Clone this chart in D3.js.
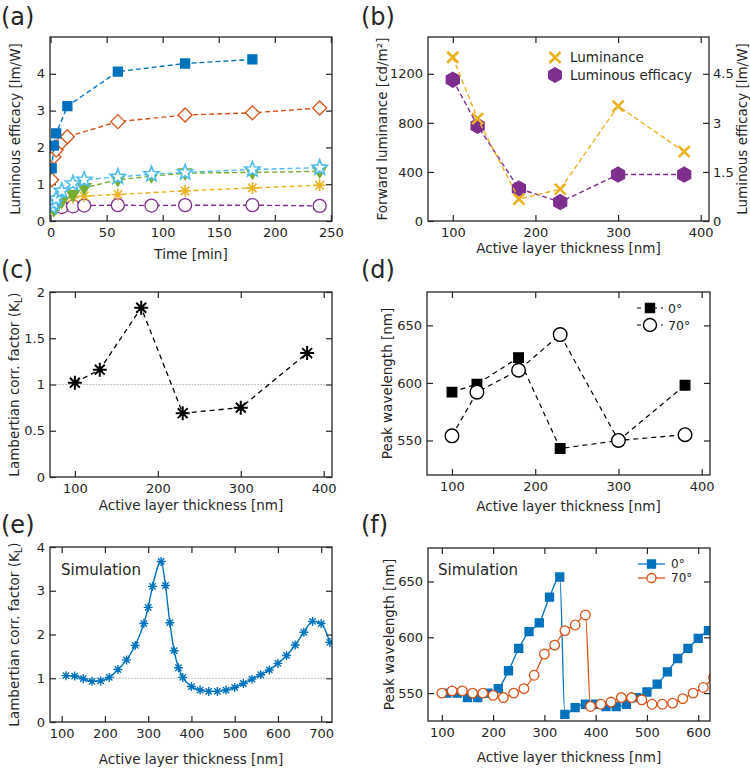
<!DOCTYPE html>
<html><head><meta charset="utf-8">
<script src="https://cdn.jsdelivr.net/npm/d3@7"></script>
<style>
body{margin:0;background:#fff}
text{font-family:"DejaVu Sans",sans-serif;fill:#262626}
</style>
</head><body>
<svg id="c" width="750" height="771"></svg>
<script>
// ---------- DATA ----------
// (a) luminous efficacy vs time
const aBlueT = [1,3,5,15,60,120,180];
const aBlue = [1.43,2.05,2.38,3.12,4.06,4.28,4.39];
const aOrangeT = [1,3,5,10,15,60,120,180,240];
const aOrange = [1.12,1.74,1.93,2.14,2.29,2.70,2.88,2.94,3.07];
const aCyanT = [1,3,5,10,20,30,60,90,120,180,240];
const aCyan = [0.38,0.48,0.6,0.82,1.02,1.12,1.2,1.27,1.32,1.4,1.45];
const aGreenT = [1,3,5,10,20,30,60,90,120,180,240];
const aGreen = [0.42,0.3,0.38,0.52,0.72,0.9,1.12,1.22,1.3,1.32,1.35];
const aYellowT = [1,3,5,10,20,30,60,120,180,240];
const aYellow = [0.45,0.5,0.55,0.62,0.64,0.68,0.72,0.82,0.9,0.97];
const aPurpleT = [1,3,10,20,30,60,90,120,180,240];
const aPurple = [0.45,0.4,0.38,0.4,0.42,0.43,0.42,0.43,0.43,0.41];
const aXTicks = [0,50,100,150,200,250];
const aYTicks = [0,1,2,3,4];
// (b)
const thickness = [100,130,180,230,300,380];
const bLuminance = [1335,835,178,260,937,565];
const bEfficacy = [4.32,2.91,0.99,0.58,1.42,1.42];
const bYTicks = [0,400,800,1200];
const bY2Ticks = [0,1.5,3,4.5];
const thickTicks = [100,200,300,400];
// (c)
const cKL = [1.02,1.16,1.83,0.69,0.75,1.34];
const cYTicks = [0,0.5,1,1.5,2];
// (d)
const d0deg = [592,599,622,543,550,598];
const d70deg = [554,592,611,642,550,555];
const wlTicks = [550,600,650];
// (e)
const eThick = [110,130,150,170,190,210,230,250,270,290,300,310,330,340,350,360,370,380,400,420,440,460,480,500,520,540,560,580,600,620,640,660,680,700,720];
const eKL = [1.06,1.05,0.99,0.93,0.94,1.02,1.2,1.42,1.75,2.25,2.62,3.1,3.67,3.12,2.27,1.63,1.24,1.02,0.81,0.73,0.70,0.70,0.73,0.79,0.88,0.98,1.08,1.19,1.34,1.52,1.76,2.05,2.30,2.25,1.82];
const eXTicks = [100,200,300,400,500,600,700];
const eYTicks = [0,1,2,3,4];
// (f)
const f0T = [110,130,150,170,190,210,230,250,270,290,310,330,340,360,380,400,420,440,460,480,500,520,540,560,580,600,620];
const f0 = [550,550,546,546,550,554,570,590,605,613,636,654,531,537,540,540,538,538,540,546,551,558,569,581,590,599,606];
const f70T = [100,120,140,160,180,200,220,240,260,280,300,320,340,360,380,390,410,430,450,470,490,510,530,550,570,590,610,630];
const f70 = [550,552,552,550,550,548,546,550,554,566,585,593,606,611,620,538,540,542,546,546,544,540,540,541,545,550,555,564];
const fXTicks = [100,200,300,400,500,600];

// ---------- COLORS ----------
const C = {blue:"#0072BD",orange:"#D95319",yellow:"#EDB120",purple:"#7E2F8E",green:"#77AC30",cyan:"#4DBEEE",axis:"#262626"};

const svg = d3.select("#c");

function mk(type, r){
  switch(type){
    case "square": return `M${-r},${-r}H${r}V${r}H${-r}Z`;
    case "diamond": return `M0,${-r}L${r},0L0,${r}L${-r},0Z`;
    case "star": { const p=[]; for(let i=0;i<10;i++){const a=-Math.PI/2+i*Math.PI/5; const rr=i%2?r*0.42:r; p.push([rr*Math.cos(a),rr*Math.sin(a)]);} return "M"+p.join("L")+"Z"; }
    case "triDown": return `M${-r},${-r*0.65}L${r},${-r*0.65}L0,${r}Z`;
    case "asterisk": { const d=r*0.707; return `M${-r},0H${r}M0,${-r}V${r}M${-d},${-d}L${d},${d}M${-d},${d}L${d},${-d}`; }
    case "x": return `M${-r},${-r}L${r},${r}M${-r},${r}L${r},${-r}`;
    case "hex": { const p=[]; for(let i=0;i<6;i++){const a=-Math.PI/2+i*Math.PI/3; p.push([r*Math.cos(a),r*Math.sin(a)]);} return "M"+p.join("L")+"Z"; }
    case "circle": return `M${r},0A${r},${r} 0 1,1 ${-r},0A${r},${r} 0 1,1 ${r},0Z`;
  }
}

function series(g, x, y, xs, ys, o){
  const pts = xs.map((d,i)=>[d,ys[i]]);
  const line = d3.line().x(d=>x(d[0])).y(d=>y(d[1])).curve(o.curve||d3.curveLinear);
  g.append("path").attr("d",line(pts)).attr("fill","none").attr("stroke",o.color)
    .attr("stroke-width",o.lw||1.4).attr("stroke-dasharray",o.dash||null);
  g.selectAll(null).data(pts).join("path")
    .attr("transform",d=>`translate(${x(d[0])},${y(d[1])})`)
    .attr("d",mk(o.marker,o.r)).attr("fill",o.fill)
    .attr("stroke",o.mstroke||o.color).attr("stroke-width",o.mlw||1.3);
}

let clipId = 0;
function panel(cfg){
  const g = svg.append("g");
  const x = d3.scaleLinear().domain(cfg.xd).range([cfg.x0,cfg.x1]);
  const y = d3.scaleLinear().domain(cfg.yd).range([cfg.y1,cfg.y0]);
  const fmt = d3.format("~g");
  const style = sel => { sel.select(".domain").remove(); sel.selectAll(".tick line").attr("stroke",C.axis).attr("stroke-width",1.2); sel.selectAll("text").attr("font-size",13).attr("fill",C.axis).attr("font-family","DejaVu Sans"); };
  g.append("g").attr("transform",`translate(0,${cfg.y1})`)
    .call(d3.axisBottom(x).tickValues(cfg.xt).tickFormat(fmt).tickSizeInner(-6).tickSizeOuter(0).tickPadding(7)).call(style);
  g.append("g").attr("transform",`translate(0,${cfg.y0})`)
    .call(d3.axisTop(x).tickValues(cfg.xt).tickFormat("").tickSizeInner(-6).tickSizeOuter(0)).call(style);
  g.append("g").attr("transform",`translate(${cfg.x0},0)`)
    .call(d3.axisLeft(y).tickValues(cfg.yt).tickFormat(fmt).tickSizeInner(-6).tickSizeOuter(0).tickPadding(5)).call(style);
  let y2 = null;
  if(cfg.y2d){
    y2 = d3.scaleLinear().domain(cfg.y2d).range([cfg.y1,cfg.y0]);
    g.append("g").attr("transform",`translate(${cfg.x1},0)`)
      .call(d3.axisRight(y2).tickValues(cfg.y2t).tickFormat(fmt).tickSizeInner(-6).tickSizeOuter(0).tickPadding(4)).call(style);
  } else {
    g.append("g").attr("transform",`translate(${cfg.x1},0)`)
      .call(d3.axisRight(y).tickValues(cfg.yt).tickFormat("").tickSizeInner(-6).tickSizeOuter(0)).call(style);
  }
  const id = "clip"+(clipId++);
  g.append("clipPath").attr("id",id).append("rect")
    .attr("x",cfg.x0).attr("y",cfg.y0).attr("width",cfg.x1-cfg.x0).attr("height",cfg.y1-cfg.y0);
  const plot = g.append("g").attr("clip-path",`url(#${id})`);
  g.append("rect").attr("x",cfg.x0).attr("y",cfg.y0).attr("width",cfg.x1-cfg.x0).attr("height",cfg.y1-cfg.y0)
    .attr("fill","none").attr("stroke",C.axis).attr("stroke-width",1.3);
  g.append("text").attr("x",(cfg.x0+cfg.x1)/2).attr("y",cfg.xty).attr("text-anchor","middle").attr("font-size",13.5).text(cfg.xtitle);
  const yt = g.append("text").attr("transform",`translate(${cfg.ytx},${(cfg.y0+cfg.y1)/2}) rotate(-90)`)
    .attr("text-anchor","middle").attr("dy","0.35em").attr("font-size",13.5);
  cfg.ytitle(yt);
  g.append("text").attr("x",cfg.lx).attr("y",cfg.ly).attr("font-size",24).text(cfg.label);
  return {g, plot, x, y, y2};
}

const xLabel = "Active layer thickness [nm]";

// ---------- (a) ----------
{
  const p = panel({x0:50,x1:332,y0:37,y1:221,xd:[-0.5,251],yd:[0,5],xt:aXTicks,yt:aYTicks,
    xtitle:"Time [min]",xty:259,ytx:15,ytitle:t=>t.text("Luminous efficacy [lm/W]"),label:"(a)",lx:1,ly:25});
  const dash="5,3";
  series(p.plot,p.x,p.y,aPurpleT,aPurple,{color:C.purple,marker:"circle",r:6.5,fill:"#fff",dash});
  series(p.plot,p.x,p.y,aYellowT,aYellow,{color:C.yellow,marker:"asterisk",r:6,fill:"none",dash,mlw:1.6});
  series(p.plot,p.x,p.y,aGreenT,aGreen,{color:C.green,marker:"triDown",r:6.5,fill:C.green,dash});
  series(p.plot,p.x,p.y,aCyanT,aCyan,{color:C.cyan,marker:"star",r:8,fill:"#fff",dash,mlw:1.6});
  series(p.plot,p.x,p.y,aOrangeT,aOrange,{color:C.orange,marker:"diamond",r:7,fill:"#fff",dash});
  series(p.plot,p.x,p.y,aBlueT,aBlue,{color:C.blue,marker:"square",r:4.5,fill:C.blue,dash});
}

// ---------- (b) ----------
{
  const p = panel({x0:428,x1:709,y0:37,y1:221,xd:[70,410],yd:[0,1500],xt:thickTicks,yt:bYTicks,
    y2d:[0,5.625],y2t:bY2Ticks,
    xtitle:xLabel,xty:253,ytx:382,ytitle:t=>t.text("Forward luminance [cd/m²]"),label:"(b)",lx:361,ly:25});
  const dash="5,3";
  series(p.plot,p.x,p.y2,thickness,bEfficacy,{color:C.purple,marker:"hex",r:7.5,fill:C.purple,dash});
  series(p.plot,p.x,p.y,thickness,bLuminance,{color:C.yellow,marker:"x",r:5.5,fill:"none",dash,mlw:2.6});
  p.g.append("text").attr("transform",`translate(742,${(37+221)/2}) rotate(-90)`).attr("text-anchor","middle")
    .attr("dy","0.35em").attr("font-size",13.5).text("Luminous efficacy [lm/W]");
  const lg = p.g.append("g");
  lg.append("path").attr("transform","translate(555,57.5)").attr("d",mk("x",5.5)).attr("stroke",C.yellow).attr("stroke-width",2.6).attr("fill","none");
  lg.append("text").attr("x",570).attr("y",62).attr("font-size",13.5).text("Luminance");
  lg.append("path").attr("transform","translate(555,75)").attr("d",mk("hex",7.5)).attr("fill",C.purple).attr("stroke",C.purple);
  lg.append("text").attr("x",570).attr("y",80).attr("font-size",13.5).text("Luminous efficacy");
}

// ---------- (c) ----------
{
  const p = panel({x0:50,x1:332,y0:292,y1:477,xd:[70,410],yd:[0,2],xt:thickTicks,yt:cYTicks,
    xtitle:xLabel,xty:510,ytx:14,ytitle:t=>{t.append("tspan").text("Lambertian corr. factor (K");t.append("tspan").attr("font-size",10).attr("dy",3).text("L");t.append("tspan").attr("dy",-3).text(")");},
    label:"(c)",lx:1,ly:278});
  p.plot.append("line").attr("x1",p.x(78)).attr("x2",p.x(402)).attr("y1",p.y(1)).attr("y2",p.y(1))
    .attr("stroke","#888").attr("stroke-width",1).attr("stroke-dasharray","1,2");
  series(p.plot,p.x,p.y,thickness,cKL,{color:"#000",marker:"asterisk",r:7,fill:"none",dash:"5,4",lw:1.3,mlw:2});
}

// ---------- (d) ----------
{
  const p = panel({x0:427,x1:710,y0:292,y1:475,xd:[70,410],yd:[520,679],xt:thickTicks,yt:wlTicks,
    xtitle:xLabel,xty:511,ytx:387,ytitle:t=>t.text("Peak wavelength [nm]"),label:"(d)",lx:361,ly:278});
  series(p.plot,p.x,p.y,thickness,d0deg,{color:"#000",marker:"square",r:4.8,fill:"#000",dash:"5,4",lw:1.2});
  series(p.plot,p.x,p.y,thickness,d70deg,{color:"#000",marker:"circle",r:6.8,fill:"#fff",dash:"5,4",lw:1.2,mlw:1.4});
  const lg = p.g.append("g");
  [[308,"square",4.5,"#000","0°"],[325,"circle",6.5,"#fff","70°"]].forEach(([yy,m,r,f,t])=>{
    lg.append("line").attr("x1",637).attr("x2",663).attr("y1",yy).attr("y2",yy).attr("stroke","#000").attr("stroke-width",1.2).attr("stroke-dasharray","4,4");
    lg.append("path").attr("transform",`translate(650,${yy})`).attr("d",mk(m,r)).attr("fill",f).attr("stroke","#000").attr("stroke-width",1.4);
    lg.append("text").attr("x",668).attr("y",yy+4.5).attr("font-size",12.5).text(t);
  });
}

// ---------- (e) ----------
{
  const p = panel({x0:50,x1:332,y0:547,y1:722,xd:[73,725],yd:[0,4],xt:eXTicks,yt:eYTicks,
    xtitle:xLabel,xty:764,ytx:14,ytitle:t=>{t.append("tspan").text("Lambertian corr. factor (K");t.append("tspan").attr("font-size",10).attr("dy",3).text("L");t.append("tspan").attr("dy",-3).text(")");},
    label:"(e)",lx:1,ly:533});
  p.plot.append("line").attr("x1",p.x(95)).attr("x2",p.x(725)).attr("y1",p.y(1)).attr("y2",p.y(1))
    .attr("stroke","#888").attr("stroke-width",1).attr("stroke-dasharray","1,2");
  series(p.plot,p.x,p.y,eThick,eKL,{color:C.blue,marker:"asterisk",r:4.5,fill:"none",lw:1.4,mlw:1.4,curve:d3.curveMonotoneX});
  p.g.append("text").attr("x",61).attr("y",575).attr("font-size",15).text("Simulation");
}

// ---------- (f) ----------
{
  const p = panel({x0:428,x1:710,y0:548,y1:721,xd:[73,623],yd:[525,680],xt:fXTicks,yt:wlTicks,
    xtitle:xLabel,xty:762,ytx:389,ytitle:t=>t.text("Peak wavelength [nm]"),label:"(f)",lx:361,ly:533});
  series(p.plot,p.x,p.y,f0T,f0,{color:C.blue,marker:"square",r:4,fill:C.blue,lw:1.3,curve:d3.curveMonotoneX});
  series(p.plot,p.x,p.y,f70T,f70,{color:C.orange,marker:"circle",r:4.8,fill:"#fff",lw:1.3,mlw:1.3,curve:d3.curveMonotoneX});
  p.g.append("text").attr("x",438).attr("y",575).attr("font-size",15).text("Simulation");
  const lg = p.g.append("g");
  [[564,"square",4,C.blue,C.blue,"0°"],[578,"circle",4.5,"#fff",C.orange,"70°"]].forEach(([yy,m,r,f,c,t])=>{
    lg.append("line").attr("x1",638).attr("x2",665).attr("y1",yy).attr("y2",yy).attr("stroke",c).attr("stroke-width",1.3);
    lg.append("path").attr("transform",`translate(651.5,${yy})`).attr("d",mk(m,r)).attr("fill",f).attr("stroke",c).attr("stroke-width",1.3);
    lg.append("text").attr("x",671).attr("y",yy+4).attr("font-size",12).text(t);
  });
}
</script>
</body></html>
